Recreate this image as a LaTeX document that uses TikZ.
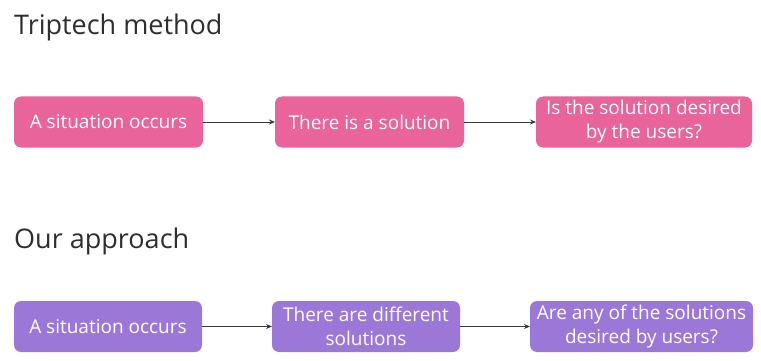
\documentclass[tikz,border=0pt]{standalone}
\usepackage{fontspec}
\setmainfont{Open Sans}
\usepackage{tikz}
\usetikzlibrary{arrows.meta,chains,positioning}
\definecolor{trippink}{HTML}{E8649A}
\definecolor{ourpurple}{HTML}{9B78D7}
\definecolor{titlegray}{HTML}{2E2E2E}
\definecolor{arrowgray}{HTML}{3A3A3A}

\begin{document}
\begin{tikzpicture}[
    x=1pt, y=1pt,
    T/.style = {anchor=base west, inner sep=0pt, text=titlegray,
                font=\fontsize{27}{31}\selectfont},% section titles
    X/.style = {rectangle, rounded corners=7pt, draw=none,% boxes of the chains
                minimum height=51pt, inner sep=2pt, outer sep=0pt,
                align=center, text=white, on chain,
                font=\fontsize{19}{24}\selectfont},
    P/.style = {X, fill=trippink},
    Q/.style = {X, fill=ourpurple},
    arr/.style = {draw=arrowgray, line width=0.8pt,
                  -{Stealth[length=6pt,width=5pt]}},
                        ]
\useasboundingbox (0,0) rectangle (761,-361);
% first row
\node[T] (tt) at (14,-35) {Triptech method};
\begin{scope}[node distance=72pt, start chain = A going right]
\node[P, minimum width=189pt, anchor=west] at (14,-122) {A situation occurs};
\node[P, minimum width=189pt] {There is a solution};
\node[P, minimum width=216pt] {Is the solution desired\\by the users?};
\end{scope}
\draw[arr] (A-1) -- (A-2);
\draw[arr] (A-2) -- (A-3);
% second row
\node[T] (to) at (14,-248) {Our approach};
\begin{scope}[node distance=70pt, start chain = B going right]
\node[Q, minimum width=188pt, anchor=west] at (14,-326.5) {A situation occurs};
\node[Q, minimum width=188pt] {There are different\\solutions};
\node[Q, minimum width=223pt] {Are any of the solutions\\desired by users?};
\end{scope}
\draw[arr] (B-1) -- (B-2);
\draw[arr] (B-2) -- (B-3);
\end{tikzpicture}
\end{document}
